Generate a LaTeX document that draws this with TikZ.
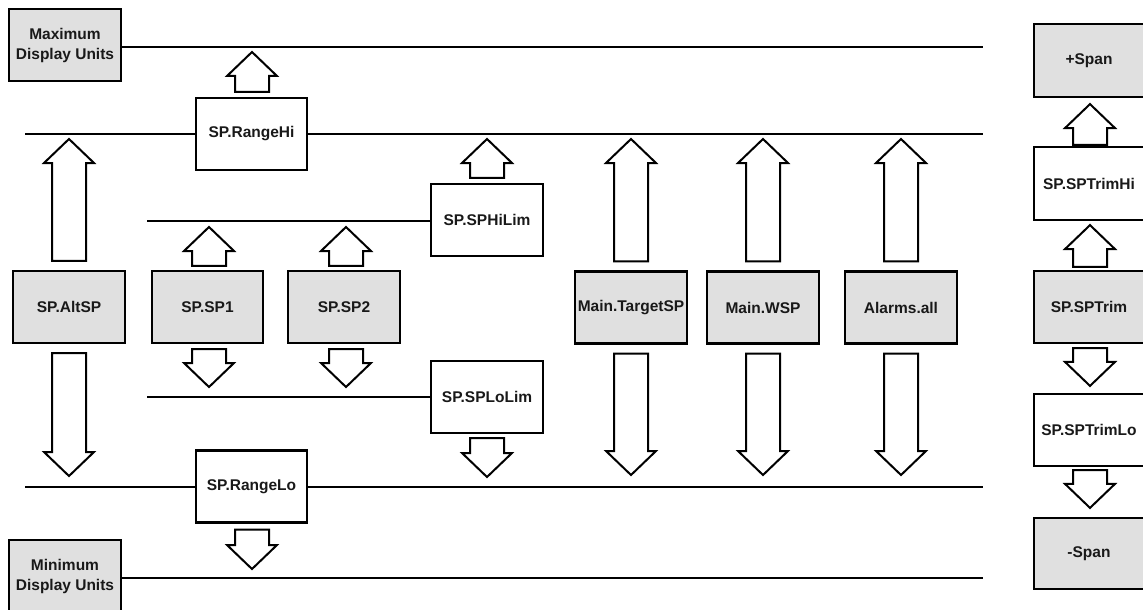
\documentclass[tikz,border=0pt]{standalone}
\usepackage{fontspec}
\setmainfont{Liberation Sans}
\usetikzlibrary{calc}
\definecolor{boxgray}{RGB}{224,224,224}
\tikzset{
  box/.style={draw=black, line width=2.2pt, minimum width=112pt, minimum height=72pt, inner sep=0pt,
    font=\fontsize{15.5}{20}\selectfont\bfseries, align=center, text=black!90},
  gbox/.style={box, fill=boxgray},
  wbox/.style={box, fill=white},
  hline/.style={draw=black, line width=2pt},
  blk/.style={draw=black, fill=white, line width=2pt, line join=miter}
}
\newcommand\blkarrow[2]{%
  \draw[blk] let \p1=(#1), \p2=(#2), \n1={sign(\y2-\y1)} in
    ({\x1-17pt},\y1) -- ({\x1-17pt},{\y2-\n1*24pt}) -- ({\x1-25pt},{\y2-\n1*24pt}) --
    (\x1,\y2) -- ({\x1+25pt},{\y2-\n1*24pt}) -- ({\x1+17pt},{\y2-\n1*24pt}) --
    ({\x1+17pt},\y1) -- cycle;}
\begin{document}
\begin{tikzpicture}[x=1pt,y=-1pt]
\useasboundingbox[fill=white] (0,0) rectangle (1143,610);
% line end coordinates
\coordinate (l1s) at (121,47);  \coordinate (l1e) at (983,47);
\coordinate (l2s) at (25,134);  \coordinate (l2e) at (983,134);
\coordinate (l3s) at (147,221);
\coordinate (l4s) at (147,397);
\coordinate (l5s) at (25,487);  \coordinate (l5e) at (983,487);
\coordinate (l6s) at (121,578); \coordinate (l6e) at (983,578);

% boxes
\node[gbox] (maxdu) at (65,45) {Maximum\\Display Units};
\node[wbox, minimum width=111pt] (rangehi) at (251.5,134) {SP.RangeHi};
\node[wbox] (sphilim) at (487,220) {SP.SPHiLim};
\node[gbox] (altsp) at (69,307) {SP.AltSP};
\node[gbox, minimum width=111pt] (sp1) at (207.5,307) {SP.SP1};
\node[gbox] (sp2) at (344,307) {SP.SP2};
\node[wbox] (splolim) at (487,397) {SP.SPLoLim};
\node[gbox] (targetsp) at (631,307.5) {Main.TargetSP};
\node[gbox] (wsp) at (763,307.5) {Main.WSP};
\node[gbox] (alarms) at (901,307.5) {Alarms.all};
\node[wbox, minimum width=111pt] (rangelo) at (251.5,486.5) {SP.RangeLo};
\node[gbox] (mindu) at (65,576) {Minimum\\Display Units};
\node[gbox, minimum width=110pt, minimum height=73pt] (pspan) at (1089,60.5) {+Span};
\node[wbox, minimum width=110pt, minimum height=73pt] (trimhi) at (1089,183.5) {SP.SPTrimHi};
\node[gbox, minimum width=110pt, minimum height=72pt] (trim) at (1089,307) {SP.SPTrim};
\node[wbox, minimum width=110pt, minimum height=72pt] (trimlo) at (1089,430) {SP.SPTrimLo};
\node[gbox, minimum width=110pt, minimum height=71pt] (mspan) at (1089,553.5) {-Span};

% horizontal lines
\draw[hline] (l1s) -- (l1e);
\draw[hline] (l2s) -- (rangehi.west |- l2s);
\draw[hline] (rangehi.east |- l2e) -- (l2e);
\draw[hline] (l3s) -- (sphilim.west |- l3s);
\draw[hline] (l4s) -- (splolim.west |- l4s);
\draw[hline] (l5s) -- (rangelo.west |- l5s);
\draw[hline] (rangelo.east |- l5e) -- (l5e);
\draw[hline] (l6s) -- (l6e);

% block arrows
\blkarrow{$(rangehi.north)+(0.5,-5)$}{$(rangehi.north |- l1s)+(0.5,5)$}
\blkarrow{$(altsp.north)+(0,-9)$}{$(altsp.north |- l2s)+(0,5)$}
\blkarrow{$(altsp.south)+(0,9)$}{$(altsp.south |- l5s)+(0,-11)$}
\blkarrow{$(sp1.north)+(1.5,-4)$}{$(sp1.north |- l3s)+(1.5,6)$}
\blkarrow{$(sp1.south)+(1.5,5)$}{$(sp1.south |- l4s)+(1.5,-10)$}
\blkarrow{$(sp2.north)+(2,-4)$}{$(sp2.north |- l3s)+(2,6)$}
\blkarrow{$(sp2.south)+(2,5)$}{$(sp2.south |- l4s)+(2,-10)$}
\blkarrow{$(sphilim.north)+(0,-5)$}{$(sphilim.north |- l2s)+(0,5)$}
\blkarrow{$(splolim.south)+(0,4)$}{$(splolim.south |- l5s)+(0,-10)$}
\blkarrow{$(targetsp.north)+(0,-9)$}{$(targetsp.north |- l2s)+(0,5)$}
\blkarrow{$(targetsp.south)+(0,9)$}{$(targetsp.south |- l5s)+(0,-12)$}
\blkarrow{$(wsp.north)+(0,-9)$}{$(wsp.north |- l2s)+(0,5)$}
\blkarrow{$(wsp.south)+(0,9)$}{$(wsp.south |- l5s)+(0,-12)$}
\blkarrow{$(alarms.north)+(0,-9)$}{$(alarms.north |- l2s)+(0,5)$}
\blkarrow{$(alarms.south)+(0,9)$}{$(alarms.south |- l5s)+(0,-12)$}
\blkarrow{$(rangelo.south)+(0.5,6)$}{$(rangelo.south |- l6s)+(0.5,-9)$}
\blkarrow{$(trimhi.north)+(1,-1)$}{$(pspan.south)+(1,6)$}
\blkarrow{$(trim.north)+(1,-3)$}{$(trimhi.south)+(1,4)$}
\blkarrow{$(trim.south)+(1,4)$}{$(trimlo.north)+(1,-7)$}
\blkarrow{$(trimlo.south)+(1,3)$}{$(mspan.north)+(1,-9)$}
\end{tikzpicture}
\end{document}
